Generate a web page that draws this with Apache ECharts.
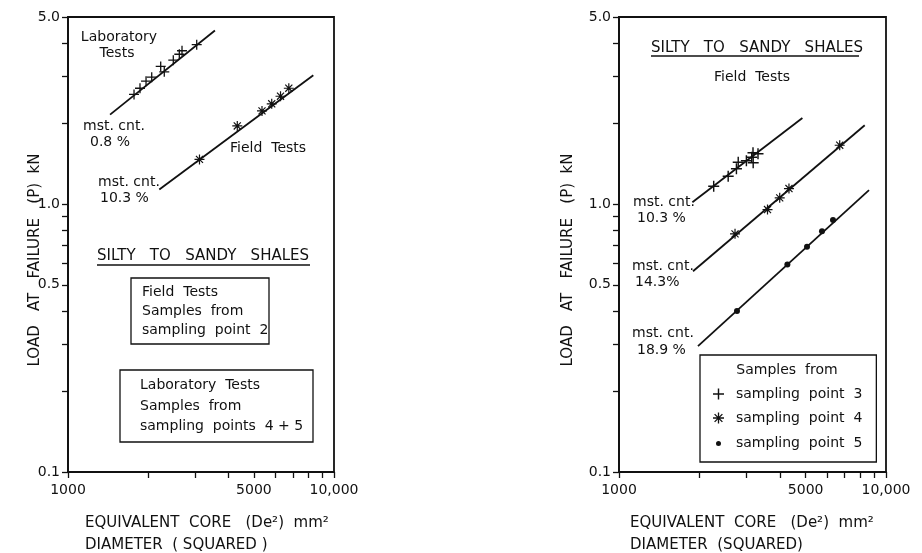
<!DOCTYPE html>
<html><head><meta charset="utf-8">
<script src="https://cdn.jsdelivr.net/npm/echarts@6/dist/echarts.min.js"></script>
<style>html,body{margin:0;padding:0;background:#fff}#c{width:922px;height:553px}</style>
</head><body><div id="c"></div>
<script>
// ---- axes ----
const xTickValues = [1000, 2000, 3000, 4000, 5000, 6000, 7000, 8000, 9000, 10000];
const xLabelValues = [1000, 5000, 10000];
const xLabelText = {1000: '1000', 5000: '5000', 10000: '10,000'};
const yTickValues = [0.1, 0.2, 0.3, 0.4, 0.5, 0.6, 0.7, 0.8, 0.9, 1, 2, 3, 4, 5];
const yLabelValues = [0.1, 0.5, 1, 5];
const yLabelText = ['0.1', '0.5', '1.0', '5.0'];

// ---- left panel: laboratory tests (mst. cnt. 0.8 %) ----
const labX = [1771, 1865, 1965, 2064, 2231, 2301, 2488, 2621, 2683, 3047];
const labY = [2.57, 2.71, 2.88, 2.98, 3.27, 3.12, 3.45, 3.63, 3.74, 3.94];
const labLineX = [1439, 3568];
const labLineY = [2.16, 4.45];
// ---- left panel: field tests (mst. cnt. 10.3 %) ----
const fieldX = [3121, 4329, 5362, 5833, 6294, 6763];
const fieldY = [1.47, 1.96, 2.23, 2.37, 2.53, 2.71];
const fieldLineX = [2204, 8361];
const fieldLineY = [1.135, 3.03];

// ---- right panel: field tests ----
const sp3X = [2263, 2564, 2753, 2796, 3000, 3141, 3176, 3316, 3181];
const sp3Y = [1.167, 1.272, 1.357, 1.434, 1.453, 1.497, 1.556, 1.543, 1.428];
const sp3LineX = [1883, 4863];
const sp3LineY = [1.017, 2.099];
const sp4X = [2720, 3599, 3999, 4331, 6709];
const sp4Y = [0.775, 0.955, 1.056, 1.144, 1.66];
const sp4LineX = [1893, 8324];
const sp4LineY = [0.562, 1.971];
const sp5X = [2766, 4272, 5060, 5758, 6331];
const sp5Y = [0.399, 0.596, 0.693, 0.793, 0.872];
const sp5LineX = [1976, 8637];
const sp5LineY = [0.295, 1.128];

const zip = (a, b) => a.map((v, i) => [v, b[i]]);
const FONT = '"DejaVu Sans", sans-serif';
const INK = '#111';
const PLUS = 'path://M4.35,0L5.65,0L5.65,4.35L10,4.35L10,5.65L5.65,5.65L5.65,10L4.35,10L4.35,5.65L0,5.65L0,4.35L4.35,4.35Z';
const STAR = 'path://M0,4.4L10,4.4L10,5.6L0,5.6Z M4.4,0L5.6,0L5.6,10L4.4,10Z M1.88,1.04L8.96,8.11L8.11,8.96L1.04,1.88Z M8.11,1.04L8.96,1.88L1.88,8.96L1.04,8.11Z';

function near(v, list) { for (let i = 0; i < list.length; i++) if (Math.abs(v - list[i]) / list[i] < 1e-3) return i; return -1; }

function xAxis(gi) {
  return {
    type: 'log', logBase: 10, min: 1000, max: 10000, gridIndex: gi,
    axisLine: {show: true, lineStyle: {color: INK, width: 1.8}},
    axisTick: {show: true, inside: false, length: 6, customValues: xTickValues, lineStyle: {color: INK, width: 1.3}},
    axisLabel: {customValues: xLabelValues, margin: 11, color: INK, fontSize: 14, fontFamily: FONT,
      formatter: v => { const i = near(v, xLabelValues); return i >= 0 ? xLabelText[xLabelValues[i]] : ''; }},
    splitLine: {show: false}, minorTick: {show: false}
  };
}
function yAxis(gi) {
  return {
    type: 'log', logBase: 10, min: 0.1, max: 5, gridIndex: gi,
    axisLine: {show: true, lineStyle: {color: INK, width: 1.8}},
    axisTick: {show: true, inside: false, length: 6, customValues: yTickValues, lineStyle: {color: INK, width: 1.3}},
    axisLabel: {customValues: yLabelValues, margin: 8, color: INK, fontSize: 14, fontFamily: FONT,
      formatter: v => { const i = near(v, yLabelValues); return i >= 0 ? yLabelText[i] : ''; }},
    splitLine: {show: false}
  };
}
function fit(name, xi, xs, ys) {
  return {name, type: 'line', xAxisIndex: xi, yAxisIndex: xi, data: zip(xs, ys), symbol: 'none',
    lineStyle: {color: INK, width: 1.8}, silent: true, z: 2, animation: false};
}
function pts(name, xi, xs, ys, symbol, size) {
  return {name, type: 'scatter', xAxisIndex: xi, yAxisIndex: xi, data: zip(xs, ys), symbol, symbolSize: size,
    itemStyle: {color: INK, opacity: 1}, z: 3, animation: false};
}
function txt(x, y, text, opts, el) {
  return Object.assign({type: 'text', x, y, silent: true,
    style: Object.assign({text, fill: INK, font: '14px ' + FONT, textAlign: 'left', textVerticalAlign: 'middle'}, opts || {})}, el || {});
}
function box(x, y, w, h) {
  return {type: 'rect', shape: {x, y, width: w, height: h}, silent: true,
    style: {fill: 'none', stroke: INK, lineWidth: 1.3}};
}
function hline(x1, x2, y) {
  return {type: 'line', shape: {x1, y1: y, x2, y2: y}, silent: true, style: {stroke: INK, lineWidth: 1.3}};
}
const F15 = {font: '15px ' + FONT};

const option = {
  backgroundColor: '#fff',
  animation: false,
  grid: [
    {left: 68, top: 17, width: 266, height: 455, show: true, borderColor: INK, borderWidth: 1.8, backgroundColor: 'transparent'},
    {left: 619, top: 17, width: 267, height: 455, show: true, borderColor: INK, borderWidth: 1.8, backgroundColor: 'transparent'}
  ],
  xAxis: [xAxis(0), xAxis(1)],
  yAxis: [yAxis(0), yAxis(1)],
  legend: {
    data: [
      {name: 'sampling point 3'},
      {name: 'sampling point 4'},
      {name: 'sampling point 5', icon: 'circle', itemStyle: {borderColor: '#fff', borderWidth: 6}}
    ],
    orient: 'vertical', left: 700, top: 355, selectedMode: false,
    padding: [32, 14, 10, 10], itemWidth: 11, itemHeight: 11, itemGap: 10,
    borderColor: INK, borderWidth: 1.3,
    formatter: n => n.replace(/ /g, '  '),
    textStyle: {color: INK, fontSize: 14, fontFamily: FONT, lineHeight: 14, padding: [0, 0, 0, 7]}
  },
  series: [
    fit('Laboratory fit', 0, labLineX, labLineY),
    fit('Field fit', 0, fieldLineX, fieldLineY),
    pts('Laboratory Tests', 0, labX, labY, PLUS, 10),
    pts('Field Tests', 0, fieldX, fieldY, STAR, 10),
    fit('fit 3', 1, sp3LineX, sp3LineY),
    fit('fit 4', 1, sp4LineX, sp4LineY),
    fit('fit 5', 1, sp5LineX, sp5LineY),
    pts('sampling point 3', 1, sp3X, sp3Y, PLUS, 11),
    pts('sampling point 4', 1, sp4X, sp4Y, STAR, 10),
    pts('sampling point 5', 1, sp5X, sp5Y, 'circle', 6)
  ],
  graphic: [
    // axis titles
    txt(35, 260, 'LOAD   AT   FAILURE   (P)  kN', {textAlign: 'center', font: '15px ' + FONT}, {rotation: Math.PI / 2}),
    txt(85, 523, 'EQUIVALENT  CORE   (De²)  mm²', F15),
    txt(85, 545, 'DIAMETER  ( SQUARED )', F15),
    txt(568, 260, 'LOAD   AT   FAILURE   (P)  kN', {textAlign: 'center', font: '15px ' + FONT}, {rotation: Math.PI / 2}),
    txt(630, 523, 'EQUIVALENT  CORE   (De²)  mm²', F15),
    txt(630, 545, 'DIAMETER  (SQUARED)', F15),
    // left panel annotations
    txt(119, 37, 'Laboratory', {textAlign: 'center'}),
    txt(117, 53, 'Tests', {textAlign: 'center'}),
    txt(83, 126, 'mst. cnt.'),
    txt(90, 142, '0.8 %'),
    txt(230, 148, 'Field  Tests'),
    txt(98, 182, 'mst. cnt.'),
    txt(100, 198, '10.3 %'),
    txt(97, 256, 'SILTY   TO   SANDY   SHALES', F15),
    hline(97, 310, 265),
    box(131, 278, 138, 66),
    txt(142, 292, 'Field  Tests'),
    txt(142, 311, 'Samples  from'),
    txt(142, 330, 'sampling  point  2'),
    box(120, 370, 193, 72),
    txt(140, 385, 'Laboratory  Tests'),
    txt(140, 406, 'Samples  from'),
    txt(140, 426, 'sampling  points  4 + 5'),
    // right panel annotations
    txt(651, 48, 'SILTY   TO   SANDY   SHALES', F15),
    hline(651, 859, 56),
    txt(752, 77, 'Field  Tests', {textAlign: 'center'}),
    txt(633, 202, 'mst. cnt.'),
    txt(637, 218, '10.3 %'),
    txt(632, 266, 'mst. cnt.'),
    txt(635, 282, '14.3%'),
    txt(632, 333, 'mst. cnt.'),
    txt(637, 350, '18.9 %'),
    txt(787, 370, 'Samples  from', {textAlign: 'center'})
  ]
};

const chart = echarts.init(document.getElementById('c'), null, {renderer: 'canvas'});
chart.setOption(option);
</script>
</body></html>
